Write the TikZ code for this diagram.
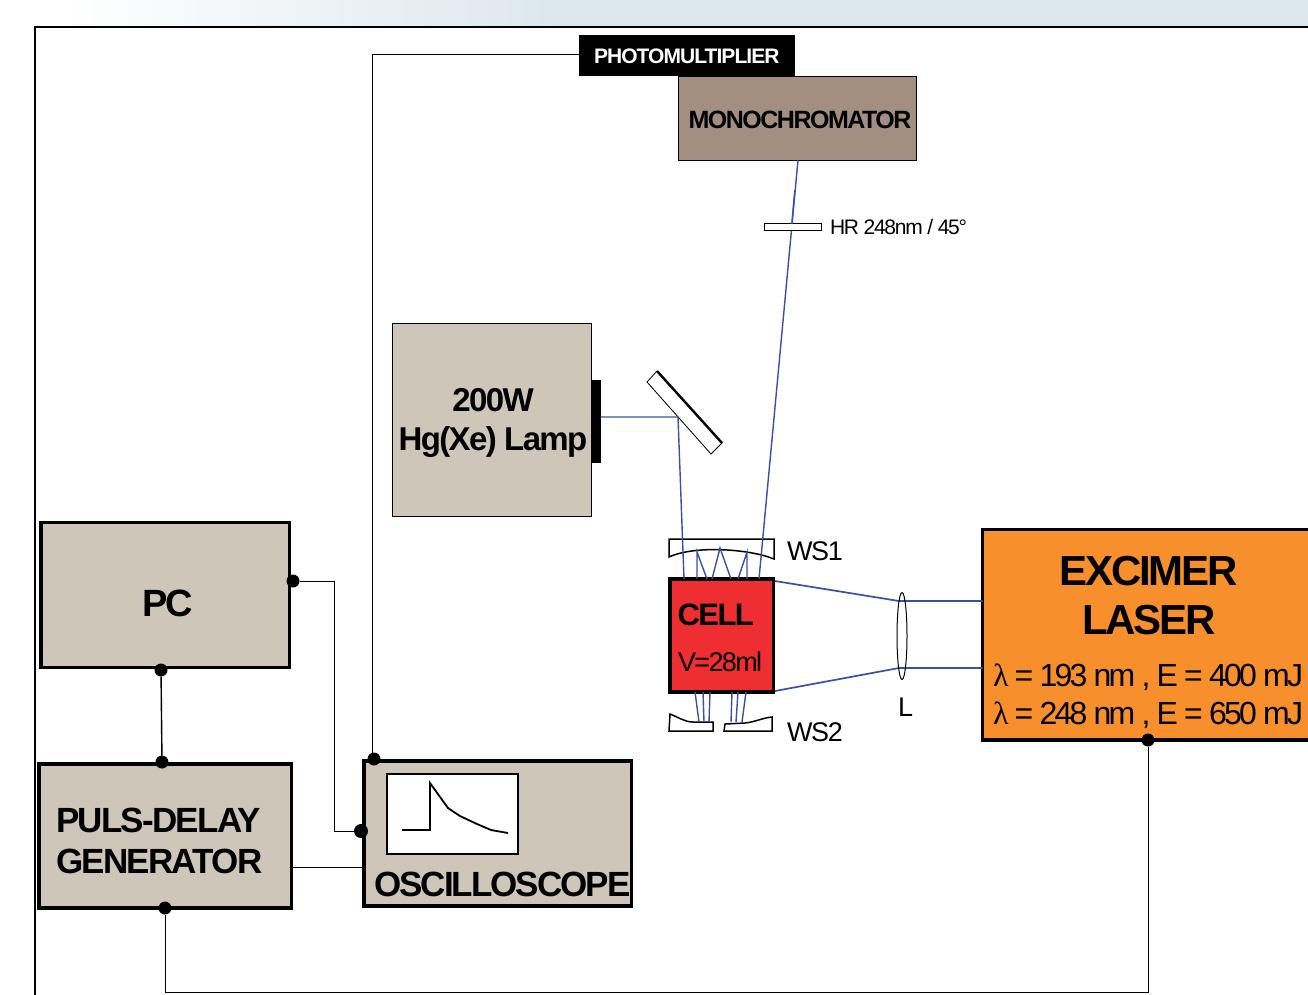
\documentclass[tikz,border=0pt]{standalone}
\usetikzlibrary{shapes.geometric}
\usepackage{fontspec}
\setmainfont{Liberation Sans}
\newfontfamily\lamfont{Liberation Serif}
\definecolor{boxgray}{HTML}{CEC6B9}
\definecolor{brownbox}{HTML}{A38E80}
\definecolor{cellred}{HTML}{EE2E30}
\definecolor{laserorange}{HTML}{F78F2C}
\definecolor{beam}{HTML}{3B50A0}
\definecolor{band}{HTML}{DCE7ED}
\newcommand\bt[2]{\fontsize{#1}{#1}\selectfont\bfseries\addfontfeature{LetterSpace=#2}}
\newcommand\rt[2]{\fontsize{#1}{#1}\selectfont\addfontfeature{LetterSpace=#2}}
\tikzset{
  box/.style={draw=black,inner sep=0pt,outer sep=0pt,anchor=north west,rectangle},
  heavy/.style={box,line width=3.4pt,fill=boxgray},
  dot/.style={circle,fill=black,inner sep=0pt,outer sep=0pt,minimum size=13pt},
  wire/.style={draw=black,line width=.95pt},
  ray/.style={draw=beam,line width=1.4pt},
  lab/.style={inner sep=0pt,outer sep=0pt,anchor=base west},
  labc/.style={inner sep=0pt,outer sep=0pt,anchor=base},
  glass/.style={draw=black,line width=1.5pt,fill=white}
}
\begin{document}
\begin{tikzpicture}[x=1pt,y=-1pt]
\useasboundingbox (0,0) rectangle (1308,994);
\clip (0,0) rectangle (1308,994);
\fill[white] (0,0) rectangle (1308,994);
\shade[left color=white,right color=band] (60,0) rectangle (560,27);
\fill[band] (559,0) rectangle (1308,27);
% frame
\coordinate (ftop) at (1310,27);
\coordinate (fcorner) at (35,27);
\coordinate (fbot) at (35,996);
\draw[line width=1.6pt,black] (ftop) -- (fcorner) -- (fbot);
% boxes
\node[box,line width=.8pt,fill=boxgray,minimum width=199.5pt,minimum height=193pt] (lamp) at (392,323) {};
\node[box,line width=.8pt,fill=brownbox,minimum width=238pt,minimum height=84pt] (mono) at (678,76) {};
\node[box,draw=none,fill=black,minimum width=216pt,minimum height=41pt] (pmt) at (579,35) {};
\node[heavy,minimum width=248.5pt,minimum height=145pt] (pc) at (41,522.5) {};
\node[heavy,minimum width=252.5pt,minimum height=144pt] (puls) at (39,764) {};
\node[heavy,minimum width=267.5pt,minimum height=145pt] (osc) at (364,761) {};
\node[box,line width=3.4pt,fill=cellred,minimum width=103.5pt,minimum height=113pt] (cell) at (670,579) {};
\node[box,line width=3.4pt,fill=laserorange,minimum width=340pt,minimum height=210.5pt] (laser) at (982.5,529.5) {};
\node[box,draw=none,fill=black,minimum width=9pt,minimum height=83pt] (shutter) at (592,380) {};
% scope screen
\node[box,line width=1.4pt,fill=white,minimum width=131pt,minimum height=80pt] (screen) at (387,774) {};
\draw[line width=1.8pt,black] (402,830) -- (430,830) -- (430,783) -- (448,808) -- (460,816) -- (477,824) -- (491,830) -- (508,833);
% connection points
\node[dot] (dpc) at (293,581) {};
\node[dot] (dpcb) at (161,670) {};
\node[dot] (dplt) at (162,762) {};
\node[dot] (dplb) at (165,908) {};
\node[dot] (dosct) at (374,759) {};
\node[dot,minimum size=14pt] (doscl) at (361,831) {};
\node[dot] (dlas) at (1148,740) {};
% wires
\draw[wire] (pmt.west|-0,54) -- (372,54) -- (372,759) -- (dosct);
\draw[wire] (dpc) -- (334,581) -- (334,831) -- (doscl);
\draw[wire,line width=1.4pt] (dpcb) -- (dplt);
\draw[line width=.7pt,black] (puls.east|-0,867) -- (osc.west|-0,867);
\draw[wire] (dplb) -- (165,992) -- (1148,992) -- (dlas);
% mirror
\coordinate (m1) at (647,382);\coordinate (m2) at (657,371);\coordinate (m3) at (722,443);\coordinate (m4) at (711,454);
\coordinate (mh) at (678,417);
\fill[white] (m1)--(m2)--(m3)--(m4)--cycle;
\draw[line width=.8pt] (m2)--(m1)--(m4)--(m3);
\draw[line width=2.4pt] (m2)--(m3);
% windows
\draw[glass] (669,557) -- (669,539) -- (774,539) -- (774,559) .. controls (750,549) and (695,545) .. cycle;
\draw[glass] (670,714) .. controls (680,718) and (685,722) .. (693,722) -- (713,722) -- (713,731) -- (669,731) -- cycle;
\draw[glass] (725,724) -- (745,723) .. controls (755,722) and (762,718) .. (772,717) -- (772,731) -- (724,731) -- cycle;
% rays
\coordinate (tl) at (697,552);\coordinate (tm) at (720,548);\coordinate (tr) at (747,552);
\draw[ray] (shutter.east|-0,417) -- (mh) -- (684,579);
\draw[ray] (mono.south-|798,0) -- (759,579);
\draw[ray] (697,579) -- (tl) -- (707,579);
\draw[ray] (712,579) -- (tm) -- (731,579);
\draw[ray] (738,579) -- (tr) -- (747,579);
\draw[ray] (695,692) -- (699,722);
\draw[ray] (703,692) -- (704,722);
\draw[ray] (710,692) -- (709,722);
\draw[ray] (732,692) -- (731,722);
\draw[ray] (738,692) -- (736,722);
\draw[ray] (746,692) -- (742,722);
\draw[ray,line width=1.7pt] (775,581) -- (899,601) -- (laser.west|-0,601);
\draw[ray,line width=1.7pt] (775,691) -- (899,668) -- (laser.west|-0,668);
\node[box,line width=.8pt,fill=white,minimum width=57pt,minimum height=7pt] (hr) at (764,223.5) {};
\draw[ray] (794.8,190) -- (791.8,224);
% lens
\node[draw=black,line width=1pt,fill=none,ellipse,inner sep=0pt,minimum width=10pt,minimum height=87pt] (lens) at (902,636) {};
% labels
\node[lab,white] (tpmt) at (594,63) {\bt{21}{-4.5}PHOTOMULTIPLIER};
\node[labc] (tmono) at (800,128) {\bt{25}{-6}MONOCHROMATOR};
\node[lab] (thr) at (830,234) {\rt{21}{-6}HR 248nm / 45°};
\node[labc] (t200) at (493,411) {\bt{33}{-5}200W};
\node[labc] (thg) at (493,450) {\bt{33}{-5}Hg(Xe) Lamp};
\node[labc] (tpc) at (167.5,616) {\bt{38}{-5}PC};
\node[lab] (tp1) at (56,832) {\bt{35}{-5}PULS-DELAY};
\node[lab] (tp2) at (56,873.5) {\bt{35}{-5}GENERATOR};
\node[lab] (tos) at (374,896) {\bt{35}{-5.6}OSCILLOSCOPE};
\node[lab] (tws1) at (787,560) {\rt{27}{-5}WS1};
\node[lab] (tws2) at (787,741) {\rt{27}{-5}WS2};
\node[lab] (tlens) at (898,716) {\rt{27}{0}L};
\node[lab] (tcell) at (677.5,625) {\bt{31}{-5}CELL};
\node[lab] (tv) at (678,671) {\rt{27}{-6}V=28ml};
\node[labc] (tex) at (1148.5,585) {\bt{42}{-5}EXCIMER};
\node[labc] (tla) at (1149,634) {\bt{42}{-5}LASER};
\node[lab] (tl1) at (993,686) {\rt{32}{-8.5}{\lamfont λ} = 193 nm , E = 400 mJ};
\node[lab] (tl2) at (993,724) {\rt{32}{-8.5}{\lamfont λ} = 248 nm , E = 650 mJ};
\end{tikzpicture}
\end{document}
